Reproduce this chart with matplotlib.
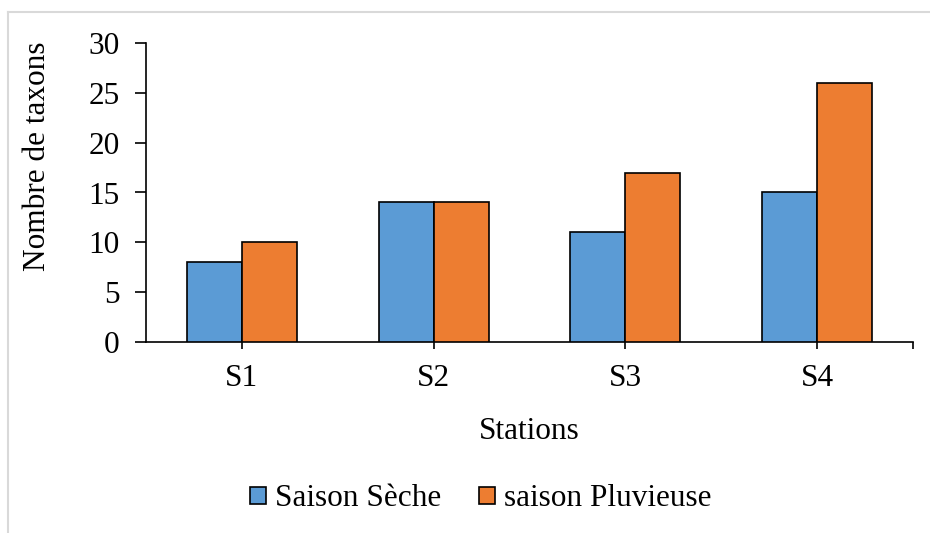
import matplotlib
matplotlib.use("Agg")
import matplotlib.pyplot as plt
from matplotlib.lines import Line2D
import numpy as np

stations = ["S1", "S2", "S3", "S4"]
saison_seche = [8, 14, 11, 15]
saison_pluvieuse = [10, 14, 17, 26]
series_labels = ["Saison Sèche", "saison Pluvieuse"]
y_ticks = [0, 5, 10, 15, 20, 25, 30]

plt.rcParams["font.family"] = ["Liberation Serif", "DejaVu Serif"]
FS = 22.5

fig = plt.figure(figsize=(9.3, 5.33), dpi=100)
ax = fig.add_axes([146 / 930, 1 - 342 / 533, (913 - 146) / 930, (342 - 43) / 533])

x = np.arange(len(stations))
w = 0.287
blue = "#5B9BD5"
orange = "#ED7D31"
ax.bar(x - w / 2, saison_seche, w, color=blue, edgecolor="black",
       linewidth=1.2, label=series_labels[0], zorder=3)
ax.bar(x + w / 2, saison_pluvieuse, w, color=orange, edgecolor="black",
       linewidth=1.2, label=series_labels[1], zorder=3)

ax.set_xlim(-0.5, len(stations) - 0.5)
ax.set_ylim(0, 30)
ax.set_yticks(y_ticks)
ax.set_yticklabels([str(v) for v in y_ticks], fontsize=FS)

# category labels at the bar centres, plus a closing tick at the right end
ax.set_xticks(list(x) + [len(stations) - 0.5])
ax.set_xticklabels(stations + [""], fontsize=FS)

for side in ("top", "right"):
    ax.spines[side].set_visible(False)
for side in ("left", "bottom"):
    ax.spines[side].set_linewidth(1.2)
    ax.spines[side].set_color("black")

ax.tick_params(axis="y", direction="out", length=8, width=1.2, pad=11)
ax.tick_params(axis="x", direction="out", length=5, width=1.2, pad=11)

ax.set_ylabel("Nombre de taxons", fontsize=FS, labelpad=26)
ax.yaxis.label.set_y(0.622)
ax.set_xlabel("Stations", fontsize=FS, labelpad=17)

fig.legend(loc="center", bbox_to_anchor=(481 / 930, 1 - 499 / 533),
           ncol=2, frameon=False, fontsize=FS, handlelength=0.5,
           handleheight=0.5, handletextpad=0.3, columnspacing=1.2)

# light frame around the chart area
fig.add_artist(Line2D([8 / 930, 8 / 930], [0, 1 - 12 / 533],
                      transform=fig.transFigure, color="#d9d9d9", linewidth=1.5))
fig.add_artist(Line2D([8 / 930, 1], [1 - 12 / 533, 1 - 12 / 533],
                      transform=fig.transFigure, color="#d9d9d9", linewidth=1.5))

fig.savefig("out.png", dpi=100, facecolor="white")
